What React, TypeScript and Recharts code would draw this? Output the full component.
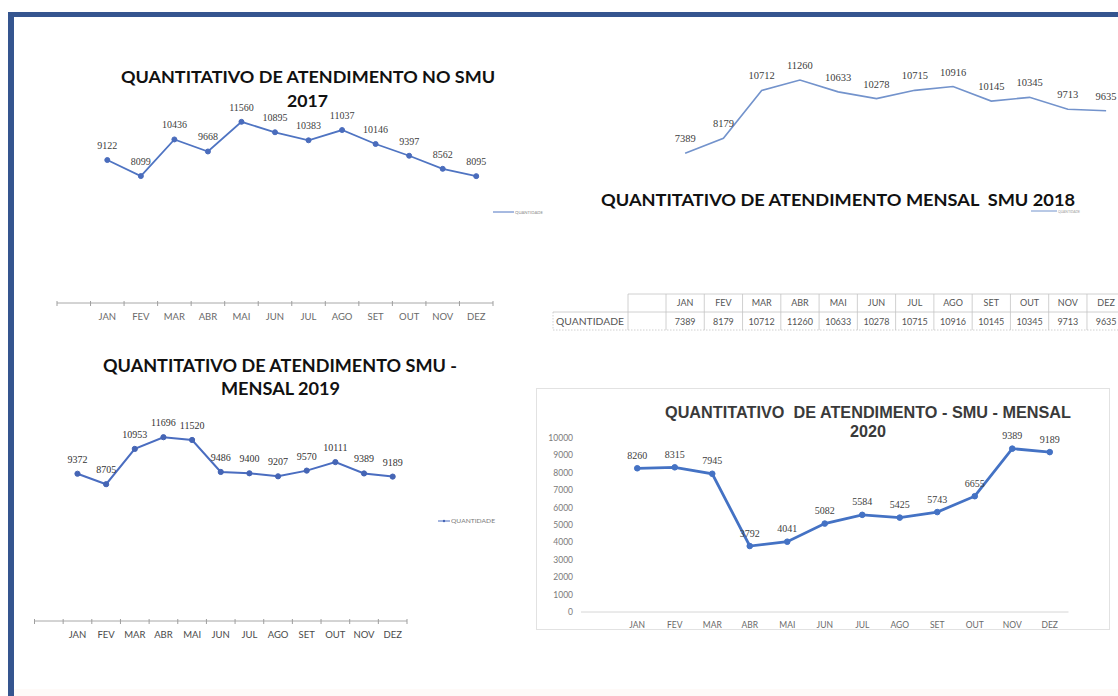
import React from 'react';
import { LineChart, Line, XAxis, YAxis, LabelList } from 'recharts';

// ---------- data ----------
const months = ['JAN', 'FEV', 'MAR', 'ABR', 'MAI', 'JUN', 'JUL', 'AGO', 'SET', 'OUT', 'NOV', 'DEZ'];
const values2017 = [9122, 8099, 10436, 9668, 11560, 10895, 10383, 11037, 10146, 9397, 8562, 8095];
const values2018 = [7389, 8179, 10712, 11260, 10633, 10278, 10715, 10916, 10145, 10345, 9713, 9635];
const values2019 = [9372, 8705, 10953, 11696, 11520, 9486, 9400, 9207, 9570, 10111, 9389, 9189];
const values2020 = [8260, 8315, 7945, 3792, 4041, 5082, 5584, 5425, 5743, 6655, 9389, 9189];
const yTicks2020 = [0, 1000, 2000, 3000, 4000, 5000, 6000, 7000, 8000, 9000, 10000];
const seriesName = 'QUANTIDADE';
const title2017 = ['QUANTITATIVO DE ATENDIMENTO NO SMU', '2017'];
const title2018 = ['QUANTITATIVO DE ATENDIMENTO MENSAL  SMU 2018'];
const title2019 = ['QUANTITATIVO DE ATENDIMENTO SMU -', 'MENSAL 2019'];
const title2020 = ['QUANTITATIVO  DE ATENDIMENTO - SMU - MENSAL', '2020'];

const toRows = (vals: number[]) => months.map((m, i) => ({ month: m, value: vals[i] }));
const data2017 = toRows(values2017);
const data2018 = toRows(values2018);
const data2019 = toRows(values2019);
const data2020 = toRows(values2020);

// ---------- styling ----------
const UI_FONT = 'Lato, "Open Sans", sans-serif';
const LABEL_FONT = '"Liberation Serif", "DejaVu Serif", serif';
const TITLE_FONT = 'Lato, "Open Sans", sans-serif';
const TITLE_FONT_2020 = '"Liberation Sans", Arial, sans-serif';

// layout (page coordinates)
const slot2017 = 436 / 13;
const slot2018 = 38.27;
const slot2019 = 372.5 / 13;
const slot2020 = 487.5 / 13;
const plotLeft2018 = 666;

function excelTick(slot: number, marks: boolean, color: string, size: number) {
  return (props: any) => {
    const { x, y, payload, index } = props;
    const last = months.length - 1;
    const mk = (px: number, k: string) => (
      <line key={k} x1={px} x2={px} y1={y - 2} y2={y + 3} stroke="#9f9f9f" strokeWidth={1} />
    );
    return (
      <g>
        {marks && mk(x - slot / 2, 'a')}
        {marks && index === 0 && mk(x - 1.5 * slot, 'b')}
        {marks && index === last && mk(x + slot / 2, 'c')}
        <text
          x={x}
          y={y + 13}
          textAnchor="middle"
          dominantBaseline="central"
          fontSize={size}
          fill={color}
          fontFamily={UI_FONT}
        >
          {payload.value}
        </text>
      </g>
    );
  };
}

function pointLabel(size: number, color: string, lift: number) {
  return (props: any) => {
    const { x, y, value } = props;
    if (x == null || y == null) return null;
    return (
      <text x={x} y={y - lift} textAnchor="middle" fontSize={size} fill={color} fontFamily={LABEL_FONT}>
        {value}
      </text>
    );
  };
}

const abs = (left: number, top: number): React.CSSProperties => ({ position: 'absolute', left, top });
const pre: React.CSSProperties = { whiteSpace: 'pre' };

export default function App() {
  return (
    <div
      style={{
        position: 'absolute',
        left: 0,
        top: 0,
        width: 1118,
        height: 696,
        overflow: 'hidden',
        background: '#ffffff',
        fontFamily: UI_FONT,
      }}
    >
      {/* frame */}
      <div style={{ ...abs(8, 12), width: 1110, height: 5, background: '#35558f' }} />
      <div style={{ ...abs(8, 12), width: 6, height: 684, background: '#35558f' }} />
      <div style={{ ...abs(14, 689), width: 1104, height: 7, background: '#fefaf8' }} />

      {/* 2020 chart box */}
      <div
        style={{
          ...abs(536, 388),
          width: 574,
          height: 242,
          border: '1px solid #e2e2e2',
          boxSizing: 'border-box',
        }}
      />

      {/* 2017 */}
      <div style={abs(0, 0)}>
        <LineChart width={520} height={340} data={data2017} margin={{ top: 83.6, left: 57, right: 27, bottom: 7 }}>
          <XAxis
            dataKey="month"
            height={30}
            interval={0}
            tickSize={0}
            tickMargin={0}
            axisLine={{ stroke: '#a8a8a8' }}
            tickLine={false}
            padding={{ left: 1.5 * slot2017, right: 0.5 * slot2017 }}
            tick={excelTick(slot2017, true, '#6a6a6a', 9.5)}
          />
          <YAxis hide domain={[0, 14000]} />
          <Line
            type="linear"
            dataKey="value"
            name={seriesName}
            stroke="#4f74c2"
            strokeWidth={1.8}
            dot={{ r: 2.5, fill: '#4a6cbc', stroke: '#4a6cbc', strokeWidth: 1 }}
            isAnimationActive={false}
          >
            <LabelList dataKey="value" content={pointLabel(10, '#404040', 11)} />
          </Line>
        </LineChart>
      </div>

      {/* 2018 */}
      <div style={abs(560, 0)}>
        <LineChart
          width={570}
          height={340}
          data={data2018}
          margin={{ top: 66, left: plotLeft2018 - 560, right: 570 - (plotLeft2018 - 560) - 12 * slot2018, bottom: 46.8 }}
        >
          <XAxis dataKey="month" hide padding={{ left: slot2018 / 2, right: slot2018 / 2 }} />
          <YAxis hide domain={[0, 12000]} />
          <Line
            type="linear"
            dataKey="value"
            name={seriesName}
            stroke="#7393cc"
            strokeWidth={1.6}
            dot={false}
            isAnimationActive={false}
          >
            <LabelList dataKey="value" content={pointLabel(10.5, '#404040', 11)} />
          </Line>
        </LineChart>
      </div>

      {/* 2019 */}
      <div style={abs(0, 340)}>
        <LineChart width={440} height={320} data={data2019} margin={{ top: 61, left: 34.5, right: 33, bottom: 9 }}>
          <XAxis
            dataKey="month"
            height={30}
            interval={0}
            tickSize={0}
            tickMargin={0}
            axisLine={{ stroke: '#a8a8a8' }}
            tickLine={false}
            padding={{ left: 1.5 * slot2019, right: 0.5 * slot2019 }}
            tick={excelTick(slot2019, true, '#4a4a4a', 9.5)}
          />
          <YAxis hide domain={[0, 14000]} />
          <Line
            type="linear"
            dataKey="value"
            name={seriesName}
            stroke="#4a6dc0"
            strokeWidth={2}
            dot={{ r: 2.6, fill: '#4565b5', stroke: '#4565b5', strokeWidth: 1 }}
            isAnimationActive={false}
          >
            <LabelList dataKey="value" content={pointLabel(10, '#333333', 11)} />
          </Line>
        </LineChart>
      </div>

      {/* 2020 */}
      <div style={abs(536, 388)}>
        <LineChart width={574} height={242} data={data2020} margin={{ top: 50, left: 5, right: 41.5, bottom: 0 }}>
          <XAxis
            dataKey="month"
            height={18}
            interval={0}
            tickSize={0}
            tickMargin={0}
            axisLine={{ stroke: '#d6d6d6' }}
            tickLine={false}
            padding={{ left: 1.5 * slot2020, right: 0.5 * slot2020 }}
            tick={excelTick(slot2020, false, '#6a6a6a', 8.5)}
          />
          <YAxis
            width={40}
            domain={[0, 10000]}
            ticks={yTicks2020}
            interval={0}
            axisLine={false}
            tickLine={false}
            tick={{ fontSize: 8.5, fill: '#7a7a7a', fontFamily: UI_FONT }}
          />
          <Line
            type="linear"
            dataKey="value"
            name={seriesName}
            stroke="#4472c4"
            strokeWidth={2.8}
            dot={{ r: 2.8, fill: '#4472c4', stroke: '#4472c4', strokeWidth: 1 }}
            isAnimationActive={false}
          >
            <LabelList dataKey="value" content={pointLabel(10, '#404040', 9.5)} />
          </Line>
        </LineChart>
      </div>

      {/* titles, legends and 2018 data table */}
      <svg width={1118} height={696} style={{ ...abs(0, 0), pointerEvents: 'none' }}>
        {/* titles */}
        <g fontFamily={TITLE_FONT} fontWeight={700} fill="#111111" fontSize={17.5}>
          <text x={121} y={83} textLength={374} lengthAdjust="spacingAndGlyphs">{title2017[0]}</text>
          <text x={287} y={107} textLength={41} lengthAdjust="spacingAndGlyphs">{title2017[1]}</text>
          <text x={601} y={206} textLength={474} lengthAdjust="spacingAndGlyphs" style={pre}>{title2018[0]}</text>
        </g>
        <g fontFamily={TITLE_FONT} fontWeight={700} fill="#111111" fontSize={16.5}>
          <text x={103} y={372} textLength={354} lengthAdjust="spacingAndGlyphs">{title2019[0]}</text>
          <text x={221} y={395} textLength={119} lengthAdjust="spacingAndGlyphs">{title2019[1]}</text>
        </g>
        <g fontFamily={TITLE_FONT_2020} fontWeight={700} fill="#3a3a3a" fontSize={16.5}>
          <text x={665} y={418} textLength={406} lengthAdjust="spacingAndGlyphs" style={pre}>{title2020[0]}</text>
          <text x={850} y={437} textLength={36} lengthAdjust="spacingAndGlyphs">{title2020[1]}</text>
        </g>

        {/* legends */}
        <line x1={493} x2={514} y1={212} y2={212} stroke="#4f74c2" strokeWidth={1} />
        <text x={515} y={213.5} fontSize={4.5} fill="#8a8a8a" textLength={28} lengthAdjust="spacingAndGlyphs">{seriesName}</text>
        <line x1={1031} x2={1057} y1={211} y2={211} stroke="#7393cc" strokeWidth={1} />
        <text x={1058} y={212.5} fontSize={4} fill="#9a9a9a" textLength={22} lengthAdjust="spacingAndGlyphs">{seriesName}</text>
        <line x1={438} x2={450} y1={521} y2={521} stroke="#4a6dc0" strokeWidth={1} />
        <circle cx={444} cy={521} r={1.2} fill="#4565b5" />
        <text x={451} y={523} fontSize={5.5} fill="#7a7a7a" textLength={44} lengthAdjust="spacingAndGlyphs">{seriesName}</text>

        {/* 2018 data table */}
        <g stroke="#c4c4c4" strokeWidth={0.8}>
          <line x1={628} x2={1118} y1={294} y2={294} />
          <line x1={553} x2={1118} y1={312} y2={312} />
          <line x1={553} x2={1118} y1={330} y2={330} strokeDasharray="1.5 1.5" />
          <line x1={628} x2={628} y1={294} y2={330} />
          <line x1={553} x2={553} y1={312} y2={330} strokeDasharray="1.5 1.5" />
          {months.map((m, i) => (
            <line key={m} x1={plotLeft2018 + i * slot2018} x2={plotLeft2018 + i * slot2018} y1={294} y2={330} />
          ))}
          <line x1={plotLeft2018 + 12 * slot2018} x2={plotLeft2018 + 12 * slot2018} y1={294} y2={330} />
        </g>
        <g fontFamily={UI_FONT} fontSize={9} fill="#555555" textAnchor="middle">
          {months.map((m, i) => (
            <text key={'h' + m} x={plotLeft2018 + (i + 0.5) * slot2018} y={305.5}>{m}</text>
          ))}
          {values2018.map((v, i) => (
            <text key={'v' + i} x={plotLeft2018 + (i + 0.5) * slot2018} y={324.5}>{v}</text>
          ))}
        </g>
        <text x={556} y={324.5} fontFamily={UI_FONT} fontSize={9} fill="#555555" textLength={68} lengthAdjust="spacingAndGlyphs">
          {seriesName}
        </text>
      </svg>
    </div>
  );
}
